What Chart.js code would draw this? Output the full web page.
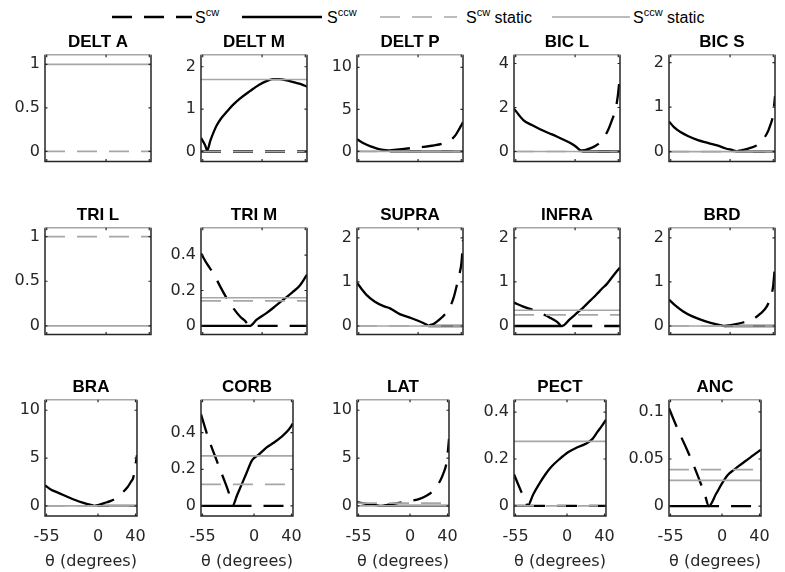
<!DOCTYPE html>
<html>
<head>
<meta charset="utf-8">
<script src="https://cdn.jsdelivr.net/npm/chart.js@4.4.0/dist/chart.umd.min.js"></script>
<style>
body { margin:0; background:#fff; width:785px; height:572px; position:relative; overflow:hidden; font-family:"Liberation Sans", Arial, sans-serif; }
canvas { position:absolute; }
#legend { position:absolute; left:0; top:0; }
</style>
</head>
<body>
<svg id="legend" width="785" height="34" font-family="Liberation Sans, Arial, sans-serif" font-size="16" fill="#000">
  <line x1="112" y1="17" x2="192" y2="17" stroke="#000" stroke-width="2.3" stroke-dasharray="20 12"/>
  <text x="195" y="23">S<tspan font-size="11" dy="-7">cw</tspan></text>
  <line x1="242" y1="17" x2="322" y2="17" stroke="#000" stroke-width="2.3"/>
  <text x="327" y="23">S<tspan font-size="11" dy="-7">ccw</tspan></text>
  <line x1="380" y1="17" x2="457" y2="17" stroke="#a6a6a6" stroke-width="1.7" stroke-dasharray="20 12"/>
  <text x="466" y="23">S<tspan font-size="11" dy="-7">cw</tspan><tspan dy="7"> static</tspan></text>
  <line x1="552" y1="17" x2="630" y2="17" stroke="#a6a6a6" stroke-width="1.7"/>
  <text x="633" y="23">S<tspan font-size="11" dy="-7">ccw</tspan><tspan dy="7"> static</tspan></text>
</svg>
<script>
const panelNames = ["DELT A","DELT M","DELT P","BIC L","BIC S","TRI L","TRI M","SUPRA","INFRA","BRD","BRA","CORB","LAT","PECT","ANC"];
const thetaMin = -56.6;
const thetaMax = 41.6;
const xTicks = [-55, 0, 40];
const yTicks = [[0,0.5,1],[0,1,2],[0,5,10],[0,2,4],[0,1,2],
                [0,0.5,1],[0,0.2,0.4],[0,1,2],[0,1,2],[0,1,2],
                [0,5,10],[0,0.2,0.4],[0,5,10],[0,0.2,0.4],[0,0.05,0.1]];
const yMin = [-0.114,-0.234,-1.18,-0.45,-0.22, -0.096,-0.048,-0.19,-0.19,-0.19, -1.05,-0.055,-1.05,-0.043,-0.0106];
const yMax = [1.11,2.285,11.5,4.4,2.18, 1.10,0.555,2.23,2.23,2.23, 11.1,0.58,11.1,0.453,0.113];
const cwStatic  = [0,0,0,0,0, 1,0.141,0,0.255,0, 0,0.118,0.3,0,0.0387];
const ccwStatic = [1,1.70,0,0,0, 0,0.159,0,0.358,0, 0,0.273,0,0.275,0.0273];

// [theta, S] pairs
const cwDeltA = [];
const ccwDeltA = [];
const cwDeltM = [[-56.6,0],[41.6,0]];
const ccwDeltM = [[-56.6,0.32],[-53,0.16],[-50.8,0.03],[-48,0.25],[-45,0.45],[-42,0.62],[-38,0.78],[-33,0.93],[-27,1.1],[-20,1.26],[-11,1.43],[-3,1.57],[4,1.66],[10,1.71],[16,1.71],[23,1.68],[30,1.63],[36,1.59],[41.6,1.53]];
const cwDeltP = [[-26,0.12],[-15,0.28],[-5,0.42],[5,0.55],[15,0.72],[22,0.9],[28,1.2],[32,1.55],[35,2.0],[38,2.65],[40,3.1],[41.6,3.5]];
const ccwDeltP = [[-56.6,1.45],[-50,0.95],[-44,0.6],[-38,0.35],[-32,0.18],[-26,0.12],[-25,0],[41.6,0]];
const cwBicL = [[5,0.03],[10,0.08],[14,0.14],[19,0.26],[23,0.41],[27,0.65],[31,1.02],[34,1.4],[37,1.84],[39.5,2.5],[41.6,3.5]];
const ccwBicL = [[-56.6,1.95],[-48,1.43],[-40,1.2],[-32,1.0],[-24,0.83],[-17,0.68],[-10,0.52],[-4,0.38],[0,0.25],[5,0.05],[8,0],[41.6,0]];
const cwBicS = [[7,0.01],[12,0.04],[18,0.08],[24.6,0.14],[29,0.24],[34,0.4],[37,0.58],[40,0.85],[41.6,1.25]];
const ccwBicS = [[-56.6,0.68],[-52,0.55],[-46,0.44],[-38,0.34],[-31,0.27],[-20,0.19],[-12,0.14],[-4,0.07],[3,0.03],[7,0],[41.6,0]];
const cwTriL = [];
const ccwTriL = [];
const cwTriM = [[-56.6,0.41],[-51,0.35],[-45,0.296],[-39,0.225],[-33,0.159],[-26,0.095],[-20,0.05],[-16,0.03],[-11.5,0],[41.6,0]];
const ccwTriM = [[-56.6,0],[-11.5,0],[-5,0.035],[4,0.072],[12,0.11],[20,0.15],[28,0.19],[35,0.228],[41.6,0.29]];
const cwSupra = [[10,0.01],[15,0.06],[20,0.15],[25,0.27],[29.5,0.43],[33,0.65],[35.7,0.91],[38,1.15],[40.3,1.46],[41.6,1.95]];
const ccwSupra = [[-56.6,0.98],[-52,0.83],[-47.6,0.7],[-40,0.55],[-32,0.45],[-26,0.4],[-17,0.27],[-7.5,0.19],[0,0.12],[8,0.03],[10,0],[41.6,0]];
const cwInfra = [[-56.6,0.53],[-48,0.44],[-38.7,0.36],[-30,0.27],[-23.3,0.19],[-17,0.1],[-12,0],[41.6,0]];
const ccwInfra = [[-56.6,0],[-12,0],[-5,0.15],[1.5,0.29],[8,0.43],[13.8,0.57],[20,0.72],[25,0.85],[29.3,0.95],[35,1.13],[41.6,1.33]];
const cwBrd = [[-5,0],[3,0.03],[12,0.08],[21.5,0.16],[28,0.28],[33.9,0.44],[37,0.62],[40,0.93],[41.6,1.4]];
const ccwBrd = [[-56.6,0.6],[-50,0.45],[-43.4,0.33],[-36,0.23],[-27.9,0.15],[-18,0.07],[-9.4,0.02],[-5,0],[41.6,0]];
const cwBra = [[-3,0],[6.6,0.3],[13,0.5],[19,0.8],[25,1.3],[31.4,1.95],[35,2.5],[37.6,2.96],[40,4.3],[41.6,5.3]];
const ccwBra = [[-56.6,2.16],[-50,1.7],[-43,1.4],[-36.5,1.12],[-28,0.75],[-21,0.49],[-13,0.25],[-5.7,0.07],[-3,0],[41.6,0]];
const cwCorb = [[-56.6,0.5],[-50,0.39],[-45.2,0.32],[-40,0.25],[-36,0.195],[-31,0.13],[-26.7,0.068],[-23,0],[41.6,0]];
const ccwCorb = [[-56.6,0],[-23,0],[-18,0.06],[-14.3,0.104],[-8,0.18],[-2,0.25],[5,0.28],[13.5,0.32],[21,0.345],[28.9,0.376],[36,0.41],[41.6,0.45]];
const cwLat = [[-30,0],[-20,0.2],[-7.5,0.4],[0,0.5],[11,0.77],[18,1.1],[23.3,1.46],[28,2.0],[32.6,2.7],[36,3.5],[38.7,4.4],[40.5,5.8],[41.6,7.0]];
const ccwLat = [[-56.6,0.4],[-45,0.2],[-35,0.05],[-30,0],[41.6,0]];
const cwPect = [[-56.6,0.135],[-52,0.09],[-48,0.053],[-44,0.02],[-42,0],[41.6,0]];
const ccwPect = [[-56.6,0],[-42,0],[-36,0.05],[-29.5,0.095],[-23,0.135],[-17,0.166],[-8,0.2],[1.5,0.23],[10,0.248],[20,0.265],[27,0.285],[32.3,0.315],[37,0.34],[41.6,0.368]];
const cwAnc = [[-56.6,0.104],[-50,0.088],[-43.4,0.073],[-37,0.059],[-31,0.045],[-25,0.03],[-18.6,0.013],[-14,0],[41.6,0]];
const ccwAnc = [[-56.6,0],[-14,0],[-6.3,0.013],[0,0.024],[6.1,0.033],[12,0.038],[18.4,0.043],[24,0.047],[30.7,0.052],[36,0.056],[41.6,0.06]];

const cwSeries = [cwDeltA,cwDeltM,cwDeltP,cwBicL,cwBicS,cwTriL,cwTriM,cwSupra,cwInfra,cwBrd,cwBra,cwCorb,cwLat,cwPect,cwAnc];
const ccwSeries = [ccwDeltA,ccwDeltM,ccwDeltP,ccwBicL,ccwBicS,ccwTriL,ccwTriM,ccwSupra,ccwInfra,ccwBrd,ccwBra,ccwCorb,ccwLat,ccwPect,ccwAnc];

const FONT = '"DejaVu Sans", "Liberation Sans", sans-serif';
const TITLE_FONT = '"Liberation Sans", Arial, sans-serif';
const colLeft = [0, 156, 312, 469, 624];
const rowTop = [24, 197, 369];
const GRAY = '#a6a6a6';
const AXIS = '#262626';

const boxPlugin = {
    id: 'box',
    afterDatasetsDraw(chart){
        const {ctx, chartArea:a, scales:{x, y}} = chart;
        ctx.save();
        ctx.lineWidth = 1.5;
        ctx.strokeStyle = AXIS;
        ctx.beginPath();
        ctx.moveTo(a.left, a.top); ctx.lineTo(a.left, a.bottom);
        ctx.lineTo(a.right, a.bottom); ctx.lineTo(a.right, a.top);
        ctx.stroke();
        ctx.strokeStyle = GRAY;
        ctx.beginPath();
        ctx.moveTo(a.left, a.top); ctx.lineTo(a.right, a.top);
        ctx.stroke();
        // inward tick marks
        ctx.strokeStyle = AXIS;
        ctx.lineWidth = 1.2;
        ctx.beginPath();
        y.ticks.forEach(t => {
            const py = y.getPixelForValue(t.value);
            ctx.moveTo(a.left, py); ctx.lineTo(a.left + 2.5, py);
            ctx.moveTo(a.right, py); ctx.lineTo(a.right - 2.5, py);
        });
        x.ticks.forEach(t => {
            const px = x.getPixelForValue(t.value);
            ctx.moveTo(px, a.bottom); ctx.lineTo(px, a.bottom - 2.5);
            ctx.moveTo(px, a.top); ctx.lineTo(px, a.top + 2.5);
        });
        ctx.stroke();
        ctx.restore();
    }
};

function pts(arr){ return arr.map(p => ({x:p[0], y:p[1]})); }
function flat(v){ return [{x:thetaMin, y:v}, {x:thetaMax, y:v}]; }

panelNames.forEach((name, i) => {
    const r = Math.floor(i / 5), c = i % 5;
    const bottomRow = r === 2;
    const canvas = document.createElement('canvas');
    canvas.width = 157;
    canvas.height = bottomRow ? 203 : 152;
    canvas.style.left = colLeft[c] + 'px';
    canvas.style.top = rowTop[r] + 'px';
    document.body.appendChild(canvas);

    new Chart(canvas.getContext('2d'), {
        type: 'line',
        data: {
            datasets: [
                { data: flat(cwStatic[i]), borderColor: GRAY, borderWidth: 1.7, borderDash: [20,12] },
                { data: flat(ccwStatic[i]), borderColor: GRAY, borderWidth: 1.7 },
                { data: pts(cwSeries[i]), borderColor: '#000', borderWidth: 2.3, borderDash: [20,12], cubicInterpolationMode: 'monotone' },
                { data: pts(ccwSeries[i]), borderColor: '#000', borderWidth: 2.3, cubicInterpolationMode: 'monotone' }
            ]
        },
        options: {
            responsive: false,
            animation: false,
            events: [],
            elements: { point: { radius: 0 }, line: { borderCapStyle: 'butt' } },
            layout: { padding: { left: 0, right: 6, top: 5, bottom: bottomRow ? 0 : 5 } },
            plugins: {
                legend: { display: false },
                tooltip: { enabled: false },
                title: { display: true, fullSize: false, text: name, color: '#000', font: { family: TITLE_FONT, size: 17, weight: 'bold', lineHeight: 1.1 }, padding: { top: 4, bottom: 3 } }
            },
            scales: {
                x: {
                    type: 'linear', min: thetaMin, max: thetaMax,
                    grid: { display: false, drawTicks: false },
                    border: { display: false },
                    afterBuildTicks: s => { s.ticks = xTicks.map(v => ({ value: v })); },
                    afterFit: s => { s.height = bottomRow ? 56 : 0; },
                    ticks: { display: bottomRow, autoSkip: false, maxRotation: 0, padding: 11, color: AXIS, font: { family: FONT, size: 16 }, callback: v => String(v) },
                    title: { display: bottomRow, text: 'θ (degrees)', color: AXIS, font: { family: FONT, size: 16 }, padding: { top: 0, bottom: 1 } }
                },
                y: {
                    type: 'linear', min: yMin[i], max: yMax[i],
                    grid: { display: false, drawTicks: false },
                    border: { display: false },
                    afterBuildTicks: s => { s.ticks = yTicks[i].map(v => ({ value: v })); },
                    afterFit: s => { s.width = 45; },
                    ticks: { autoSkip: false, padding: 5, color: AXIS, font: { family: FONT, size: 16 }, callback: v => String(v) }
                }
            }
        },
        plugins: [boxPlugin]
    });
});
</script>
</body>
</html>
